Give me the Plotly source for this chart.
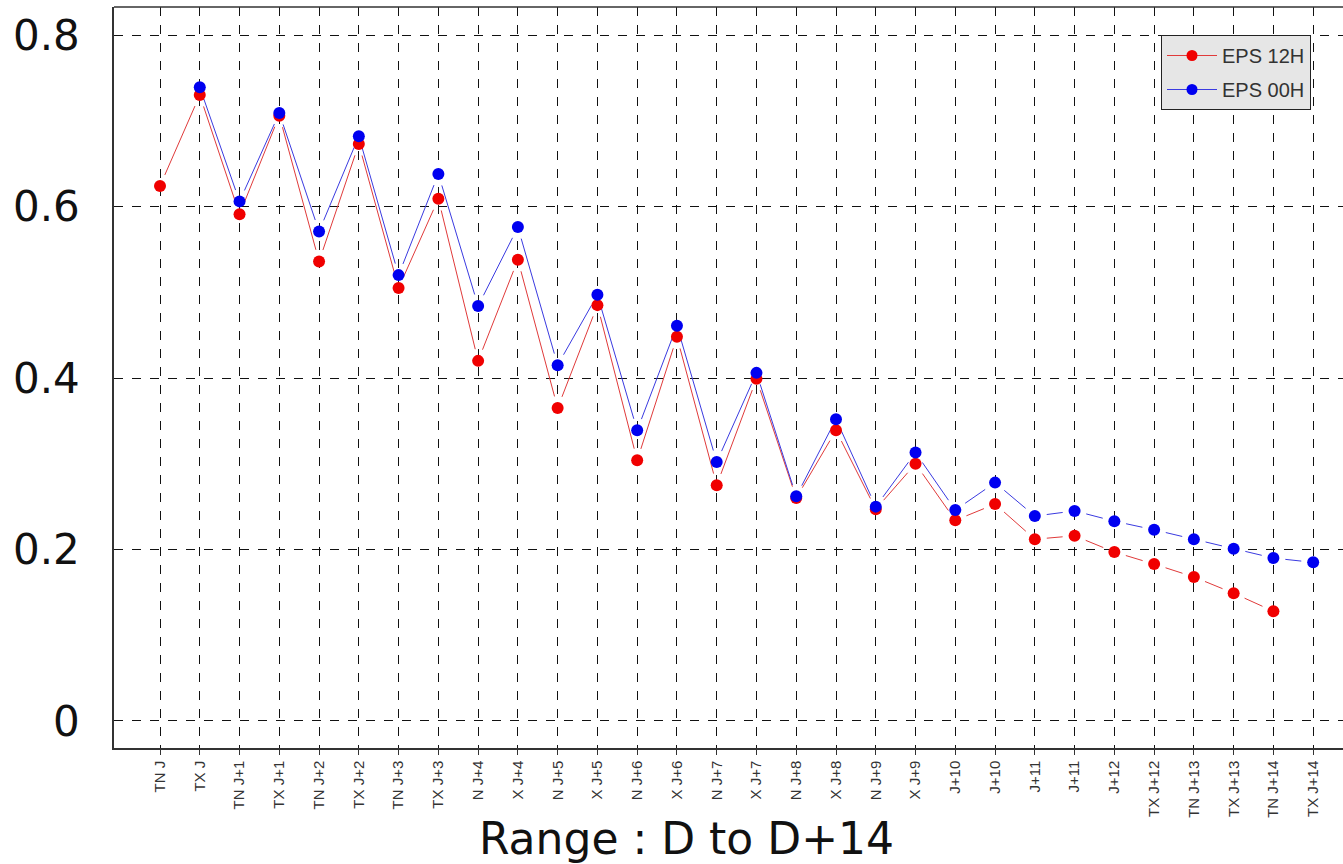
import plotly.graph_objects as go

labels = ["TN J", "TX J", "TN J+1", "TX J+1", "TN J+2", "TX J+2", "TN J+3", "TX J+3",
          "N J+4", "X J+4", "N J+5", "X J+5", "N J+6", "X J+6", "N J+7", "X J+7",
          "N J+8", "X J+8", "N J+9", "X J+9", "J+10", "J+10", "J+11", "J+11", "J+12",
          "TX J+12", "TN J+13", "TX J+13", "TN J+14", "TX J+14"]

eps_12h = [0.624, 0.730, 0.591, 0.706, 0.536, 0.673, 0.505, 0.609, 0.420, 0.538,
           0.365, 0.485, 0.304, 0.448, 0.275, 0.399, 0.260, 0.339, 0.247, 0.300,
           0.234, 0.253, 0.212, 0.216, 0.197, 0.183, 0.168, 0.149, 0.128, None]

eps_00h = [None, 0.739, 0.606, 0.709, 0.571, 0.682, 0.520, 0.638, 0.484, 0.576,
           0.415, 0.497, 0.339, 0.461, 0.302, 0.406, 0.262, 0.352, 0.250, 0.313,
           0.246, 0.278, 0.239, 0.245, 0.233, 0.223, 0.212, 0.201, 0.190, 0.185]

yticks = [0, 0.2, 0.4, 0.6, 0.8]
ytick_text = ["0", "0.2", "0.4", "0.6", "0.8"]

X_RANGE = [-1.157, 29.75]
Y_RANGE = [-0.0315, 0.8327]
W, H = 1343, 864
M_L, M_R, M_T, M_B = 114, 0, 7, 116
PX_X = (W - M_L - M_R) / (X_RANGE[1] - X_RANGE[0])
PX_Y = (H - M_T - M_B) / (Y_RANGE[1] - Y_RANGE[0])
GAP = 12  # pixel gap around points (R type="b" style)


def gapped_segments(vals):
    xs, ys = [], []
    for i in range(len(vals) - 1):
        a, b = vals[i], vals[i + 1]
        if a is None or b is None:
            continue
        dx = 1 * PX_X
        dy = (b - a) * PX_Y
        d = (dx ** 2 + dy ** 2) ** 0.5
        if d <= 2 * GAP:
            continue
        f = GAP / d
        xs += [i + f, i + 1 - f, None]
        ys += [a + (b - a) * f, b - (b - a) * f, None]
    return xs, ys


idx = list(range(len(labels)))
RED_LINE, BLUE_LINE = "#e03a3a", "#3a3ae0"
RED, BLUE = "#f00000", "#0000f0"

fig = go.Figure()
for vals, lc in [(eps_12h, RED_LINE), (eps_00h, BLUE_LINE)]:
    sx, sy = gapped_segments(vals)
    fig.add_trace(go.Scatter(x=sx, y=sy, mode="lines", line=dict(color=lc, width=1),
                             showlegend=False, hoverinfo="skip"))
for vals, mc in [(eps_12h, RED), (eps_00h, BLUE)]:
    fig.add_trace(go.Scatter(x=idx, y=vals, mode="markers",
                             marker=dict(color=mc, size=12, line=dict(width=0)),
                             showlegend=False))
for name, lc, mc in [("EPS 12H", RED_LINE, RED), ("EPS 00H", BLUE_LINE, BLUE)]:
    fig.add_trace(go.Scatter(x=[None], y=[None], mode="lines+markers", name=name,
                             legendgroup=name,
                             line=dict(color=lc, width=1),
                             marker=dict(color=mc, size=11)))

fig.update_layout(
    width=W, height=H,
    margin=dict(l=M_L, r=M_R, t=M_T, b=M_B),
    plot_bgcolor="white", paper_bgcolor="white",
    font=dict(family="DejaVu Sans, Verdana, sans-serif", color="#222"),
    showlegend=True,
    legend=dict(x=(1311 - M_L) / (W - M_L), xanchor="right",
                y=1 - (35 - M_T) / (H - M_T - M_B), yanchor="top",
                bgcolor="#e6e6e6", bordercolor="#222", borderwidth=1,
                font=dict(size=20, color="#333", family="Liberation Sans, Arial, sans-serif"),
                itemwidth=50, tracegroupgap=5),
    xaxis=dict(range=X_RANGE, tickmode="array", tickvals=idx, ticktext=labels,
               tickangle=-90, tickfont=dict(size=15, color="#333",
                                            family="Liberation Sans, Arial, sans-serif"),
               ticks="outside", ticklen=5, tickcolor="#333",
               showgrid=True, gridcolor="#111", gridwidth=1, griddash="dash",
               showline=True, linecolor="#333", linewidth=1.5, mirror=False,
               zeroline=False),
    yaxis=dict(range=Y_RANGE, tickmode="array", tickvals=yticks, ticktext=ytick_text,
               tickfont=dict(size=42, color="#111"), ticks="", ticklabelstandoff=24,
               showgrid=True, gridcolor="#111", gridwidth=1, griddash="dash",
               showline=True, linecolor="#333", linewidth=1.5, zeroline=False),
    shapes=[dict(type="line", xref="paper", yref="paper", x0=0, x1=1, y0=1, y1=1,
                 line=dict(color="#333", width=1.5))],
    annotations=[dict(text="Range : D to D+14", xref="paper", yref="paper",
                      x=(686 - M_L) / (W - M_L), y=-(838 - 748) / (H - M_T - M_B),
                      xanchor="center", yanchor="middle", showarrow=False,
                      font=dict(size=44, color="#111"))],
)

fig.write_html("out.html")
